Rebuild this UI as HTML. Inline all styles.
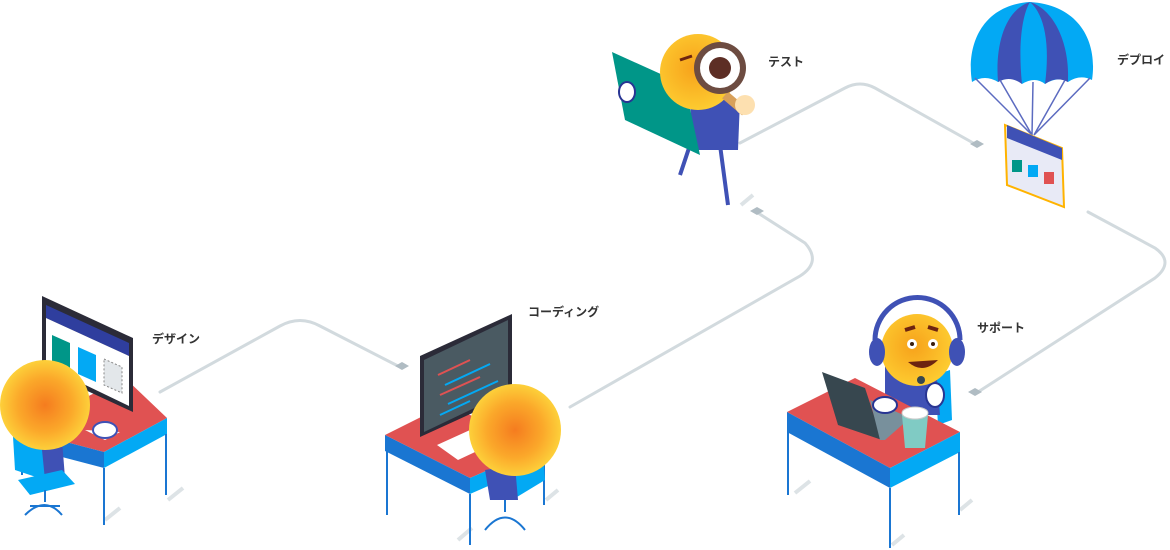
<!DOCTYPE html>
<html><head><meta charset="utf-8"><style>
body{margin:0;background:#fff;width:1170px;height:550px;overflow:hidden}
svg{display:block}
text{font-family:"Liberation Sans","Noto Sans CJK JP",sans-serif;font-weight:bold;font-size:12px;fill:#333}
</style></head><body>
<svg width="1170" height="550" viewBox="0 0 1170 550">
<defs>
<radialGradient id="og" cx="50%" cy="50%" r="50%"><stop offset="0" stop-color="#f57c1f"/><stop offset="0.6" stop-color="#fba82a"/><stop offset="1" stop-color="#fdd03a"/></radialGradient>
<radialGradient id="yg" cx="45%" cy="45%" r="55%"><stop offset="0" stop-color="#f7a21b"/><stop offset="1" stop-color="#fdcb30"/></radialGradient>
</defs>
<g fill="none" stroke="#d2dade" stroke-width="3" stroke-linecap="round">
<path d="M160 392 L280 326 Q300 315 320 326 L398 366"/>
<path d="M570 407 L800 276 Q822 262 805 243 L758 213"/>
<path d="M740 143 L845 88 Q860 80 875 88 L975 144"/>
<path d="M1088 212 L1155 248 Q1175 262 1155 278 L978 392"/>
</g>
<g fill="#b0bcc3">
<path d="M402 362 l7 4 -7 4 -7 -4z"/><path d="M757 207 l7 4 -7 4 -7 -4z"/>
<path d="M977 140 l7 4 -7 4 -7 -4z"/><path d="M975 388 l7 4 -7 4 -7 -4z"/>
</g>
<g stroke="#dde3e6" stroke-width="4">
<path d="M168 500 l15 -12"/><path d="M105 520 l15 -12"/><path d="M546 500 l12 -10"/><path d="M458 540 l14 -12"/><path d="M795 493 l15 -12"/><path d="M960 510 l12 -10"/><path d="M892 545 l12 -10"/><path d="M741 205 l12 -10"/>
</g>
<g>
<path d="M20 430 L125 378 L167 418 L104 452 Z" fill="#e05252"/>
<path d="M20 430 L104 452 L104 468 L20 446 Z" fill="#1a76d2"/>
<path d="M104 452 L167 418 L167 434 L104 468 Z" fill="#03a9f4"/>
<g stroke="#1a76d2" stroke-width="2"><path d="M104 468 V525"/><path d="M166 434 V495"/><path d="M22 446 V475"/></g>
<path d="M42 296 L133 338 L133 412 L42 370Z" fill="#2b2b38"/>
<path d="M46 305 L129 343 L129 356 L46 318Z" fill="#2f3e9e"/>
<path d="M46 318 L129 356 L129 406 L46 366Z" fill="#fff"/>
<path d="M52 335 L70 343 L70 370 L52 362Z" fill="#009688"/>
<path d="M78 347 L96 355 L96 382 L78 374Z" fill="#03a9f4"/>
<path d="M104 359 L122 367 L122 393 L104 385Z" fill="#e3e7ea" stroke="#888" stroke-dasharray="2 2"/>
<path d="M85 430 L120 432 L105 440 Z" fill="#fff"/>
<ellipse cx="105" cy="430" rx="12" ry="8" fill="#fff" stroke="#3f51b5" stroke-width="2"/>
<path d="M30 440 L62 440 L65 478 L35 478Z" fill="#3f51b5"/>
<path d="M12 420 L40 430 L45 480 L15 470Z" fill="#03a9f4"/>
<path d="M18 480 L62 470 L75 484 L30 495Z" fill="#03a9f4"/>
<g stroke="#1a76d2" stroke-width="2" fill="none"><path d="M45 490 V502 M25 515 Q45 495 62 515 M30 506 L60 506"/></g>
<circle cx="45" cy="405" r="45" fill="url(#og)"/>
</g>
<g>
<path d="M385 435 L445 405 L545 445 L470 478 Z" fill="#e05252"/>
<path d="M385 435 L470 478 L470 494 L385 451 Z" fill="#1a76d2"/>
<path d="M470 478 L545 445 L545 461 L470 494 Z" fill="#03a9f4"/>
<g stroke="#1a76d2" stroke-width="2"><path d="M470 494 V545"/><path d="M544 461 V505"/><path d="M387 451 V515"/></g>
<path d="M420 356 L512 314 L512 395 L420 437Z" fill="#2b2b38"/>
<path d="M424 360 L508 320 L508 392 L424 432Z" fill="#4a5a62"/>
<g stroke-width="2"><path d="M438 375 L470 360" stroke="#e05252"/><path d="M445 385 L490 364" stroke="#03a9f4"/><path d="M440 395 L480 377" stroke="#e05252"/><path d="M448 404 L498 381" stroke="#03a9f4"/><path d="M440 415 L470 401" stroke="#03a9f4"/></g>
<path d="M437 445 L470 430 L490 445 L458 460Z" fill="#fff"/>
<path d="M505 440 L540 420 L545 480 L512 500Z" fill="#03a9f4"/>
<path d="M485 470 L515 465 L518 500 L490 500Z" fill="#3f51b5"/>
<g stroke="#1a76d2" stroke-width="2" fill="none"><path d="M505 500 V512 M485 530 Q505 505 525 530"/></g>
<circle cx="515" cy="430" r="46" fill="url(#og)"/>
</g>
<g>
<path d="M935 375 L950 370 L952 420 L938 425Z" fill="#03a9f4"/>
<path d="M885 355 L935 355 L940 415 L885 415Z" fill="#3f51b5"/>
<path d="M787 412 L855 378 L960 432 L890 468 Z" fill="#e05252"/>
<path d="M787 412 L890 468 L890 488 L787 432 Z" fill="#1a76d2"/>
<path d="M890 468 L960 432 L960 452 L890 488 Z" fill="#03a9f4"/>
<g stroke="#1a76d2" stroke-width="2"><path d="M890 488 V548"/><path d="M959 452 V515"/><path d="M788 432 V495"/></g>
<path d="M822 372 L865 388 L882 440 L838 425Z" fill="#37474f"/>
<path d="M870 400 L910 418 L885 440 L880 440Z" fill="#78909c"/>
<ellipse cx="885" cy="405" rx="12" ry="8" fill="#fff" stroke="#283593" stroke-width="2"/>
<ellipse cx="935" cy="395" rx="9" ry="12" fill="#fff" stroke="#283593" stroke-width="2"/>
<path d="M902 415 L928 415 L925 448 L905 448Z" fill="#80cbc4"/>
<ellipse cx="915" cy="413" rx="13" ry="6" fill="#fff" stroke="#ccc"/>
<path d="M875 340 A38 38 0 0 1 960 340" fill="none" stroke="#3f51b5" stroke-width="5"/>
<circle cx="917" cy="350" r="36" fill="url(#yg)"/>
<ellipse cx="877" cy="352" rx="8" ry="14" fill="#3f51b5"/><ellipse cx="957" cy="352" rx="8" ry="14" fill="#3f51b5"/>
<circle cx="912" cy="344" r="5" fill="#fff"/><circle cx="933" cy="344" r="5" fill="#fff"/>
<circle cx="912" cy="344" r="2" fill="#3b1d0d"/><circle cx="933" cy="344" r="2" fill="#3b1d0d"/>
<path d="M908 362 Q923 375 938 360 Z" fill="#6d2410"/>
<path d="M905 330 l10 -3 M928 327 l10 3" stroke="#6d2410" stroke-width="4"/>
<circle cx="921" cy="380" r="4" fill="#37474f"/>
</g>
<g>
<path d="M690 145 L680 175 M720 145 L728 205" stroke="#3f51b5" stroke-width="4" fill="none"/>
<path d="M690 100 L740 100 L738 150 L693 150Z" fill="#3f51b5"/>
<path d="M612 52 L685 85 L700 155 L625 120 Z" fill="#009688"/>
<ellipse cx="627" cy="92" rx="8" ry="10" fill="#fff" stroke="#283593" stroke-width="2"/>
<circle cx="698" cy="72" r="38" fill="url(#yg)"/>
<path d="M725 95 L745 112" stroke="#d8a05a" stroke-width="9"/>
<circle cx="745" cy="105" r="10" fill="#fde0b0"/>
<circle cx="720" cy="68" r="26" fill="#6d4c41"/>
<circle cx="720" cy="68" r="20" fill="#fff"/>
<circle cx="720" cy="68" r="11" fill="#5d2e25"/>
<path d="M680 60 l12 -4" stroke="#6d2410" stroke-width="3"/>
</g>
<g>
<path d="M1030 2 C982 5 966 45 972 82 Q985 74 998 82 Q1012 74 1022 84 Q1035 76 1045 84 Q1058 76 1068 82 Q1080 74 1092 80 C1098 40 1078 5 1030 2Z" fill="#03a9f4"/>
<path d="M1030 2 C1005 10 995 45 998 82 Q1010 75 1022 84 C1018 45 1022 15 1030 2Z" fill="#3f51b5"/>
<path d="M1030 2 C1045 15 1050 45 1045 84 Q1056 76 1068 82 C1070 45 1055 10 1030 2Z" fill="#3f51b5"/>
<path d="M975 78 L1032 135 M1000 80 L1032 135 M1033 82 L1032 135 M1065 80 L1034 135 M1090 78 L1034 135" stroke="#5c6bc0" stroke-width="1.5"/>
<path d="M1005 125 L1062 148 L1064 207 L1007 185Z" fill="#e8eaf6" stroke="#ffb300" stroke-width="2"/>
<path d="M1007 125 L1062 148 L1062 160 L1007 138Z" fill="#3f51b5"/>
<rect x="1012" y="160" width="10" height="12" fill="#009688"/><rect x="1028" y="165" width="10" height="12" fill="#03a9f4"/><rect x="1044" y="172" width="10" height="12" fill="#e05252"/>
</g>
<text x="152" y="343">デザイン</text>
<text x="528" y="316">コーディング</text>
<text x="768" y="66">テスト</text>
<text x="1117" y="64">デプロイ</text>
<text x="977" y="332">サポート</text>
</svg>
</body></html>
